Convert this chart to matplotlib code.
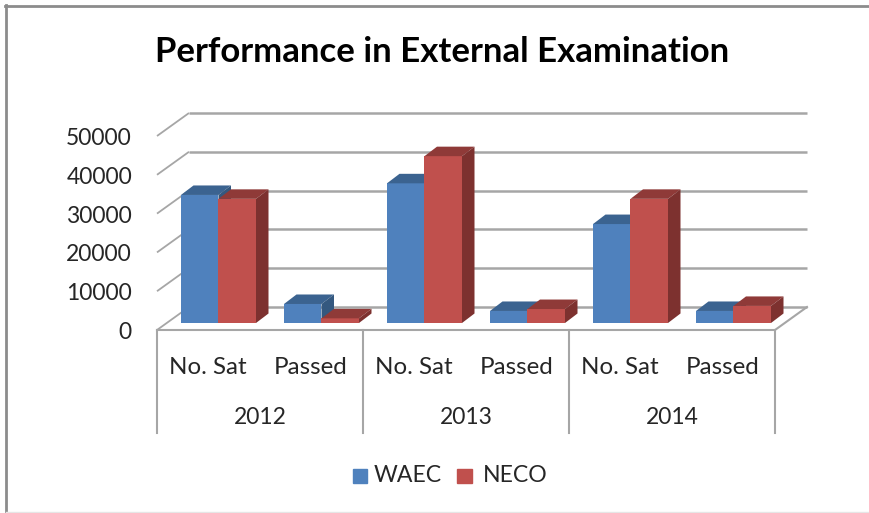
import matplotlib
matplotlib.use("Agg")
import matplotlib.pyplot as plt
from matplotlib.patches import Polygon, Rectangle

plt.rcParams['font.family'] = ['Lato', 'DejaVu Sans']

years = ['2012', '2013', '2014']
groups = ['No. Sat', 'Passed', 'No. Sat', 'Passed', 'No. Sat', 'Passed']
waec = [33000, 4900, 36000, 3100, 25500, 3100]
neco = [32000, 1200, 43000, 3600, 32000, 4400]
y_ticks = [0, 10000, 20000, 30000, 40000, 50000]

W, H = 870, 513
BLUE, BLUE_TOP, BLUE_SIDE = '#4f81bd', '#3b6390', '#34587f'
RED, RED_TOP, RED_SIDE = '#c0504d', '#8f3a38', '#7d312f'
GRID = '#a6a6a6'
TEXT = '#262626'

fig = plt.figure(figsize=(W / 100, H / 100), dpi=100)
ax = fig.add_axes([157 / W, (H - 323) / H, 618 / W, 194 / H])
ax.set_xlim(0, 6)
ax.set_ylim(0, 50000)
ax.axis('off')

# pixel to data sizes, for the fake 3d depth
px = 6 / 618
py = 50000 / 194
bar_w = 37.5 * px
off = 24 * px
dep_x, dep_y = 12.5 * px, 9.5 * py

# back wall grid lines and the slanted bit on the left wall
for v in y_ticks:
    ax.plot([0, 32 * px], [v + 16 * py - 23 * py, v + 16 * py], color=GRID, lw=1.3,
            clip_on=False, zorder=1, solid_capstyle='butt')
    ax.plot([32 * px, 6 + 32 * px], [v + 16 * py, v + 16 * py], color=GRID, lw=1.8,
            clip_on=False, zorder=1, solid_capstyle='butt')
    ax.text(-25 * px, v - 9.5 * py, str(v), ha='right', va='center', fontsize=16.5,
            color=TEXT, clip_on=False)

# floor edges
ax.plot([0, 6, 6 + 32 * px], [-7 * py, -7 * py, 16 * py], color=GRID, lw=1.5,
        clip_on=False, zorder=1)


def draw_bar(x, v, face, top, side, z):
    ax.bar(x, v, bar_w, align='edge', color=face, zorder=z, clip_on=False)
    ax.add_patch(Polygon([(x, v), (x + dep_x, v + dep_y), (x + bar_w + dep_x, v + dep_y),
                          (x + bar_w, v)], closed=True, color=top, lw=0, zorder=z, clip_on=False))
    ax.add_patch(Polygon([(x + bar_w, 0), (x + bar_w + dep_x, dep_y), (x + bar_w + dep_x, v + dep_y),
                          (x + bar_w, v)], closed=True, color=side, lw=0, zorder=z, clip_on=False))


for i in range(len(groups)):
    draw_bar(i + off, waec[i], BLUE, BLUE_TOP, BLUE_SIDE, 3 + i)
    draw_bar(i + off + bar_w, neco[i], RED, RED_TOP, RED_SIDE, 3.5 + i)
    ax.text(i + 0.5 - 1 * px, -45 * py, groups[i], ha='center', va='center', fontsize=17.4,
            color=TEXT, clip_on=False)

# multi level category axis
for i in range(4):
    ax.plot([i * 2, i * 2], [-7 * py, -110 * py], color=GRID, lw=1.5, clip_on=False, zorder=1)
for i, year in enumerate(years):
    ax.text(i * 2 + 1, -95 * py, year, ha='center', va='center', fontsize=16.5,
            color=TEXT, clip_on=False)

fig.text(442 / W, 1 - 52 / H, 'Performance in External Examination', ha='center', va='center',
         fontsize=25, fontweight='bold', color='black')

# legend
fig.patches.append(Rectangle((353 / W, 1 - 483 / H), 14 / W, 14 / H, color=BLUE,
                             transform=fig.transFigure))
fig.patches.append(Rectangle((457 / W, 1 - 483 / H), 15 / W, 14 / H, color=RED,
                             transform=fig.transFigure))
fig.text(374 / W, 1 - 476 / H, 'WAEC', ha='left', va='center', fontsize=16.6, color=TEXT)
fig.text(483 / W, 1 - 476 / H, 'NECO', ha='left', va='center', fontsize=16.6, color=TEXT)

# chart frame, only top and left show up in the original
fig.add_artist(plt.Line2D([6 / W, 6 / W], [0, 1 - 5 / H], color='#8c8c8c', lw=2))
fig.add_artist(plt.Line2D([5 / W, 1], [1 - 5.5 / H, 1 - 5.5 / H], color='#8c8c8c', lw=2))
fig.add_artist(plt.Line2D([6 / W, 1], [1.5 / H, 1.5 / H], color='#e6e6e6', lw=1))

fig.savefig('out.png', dpi=100)
